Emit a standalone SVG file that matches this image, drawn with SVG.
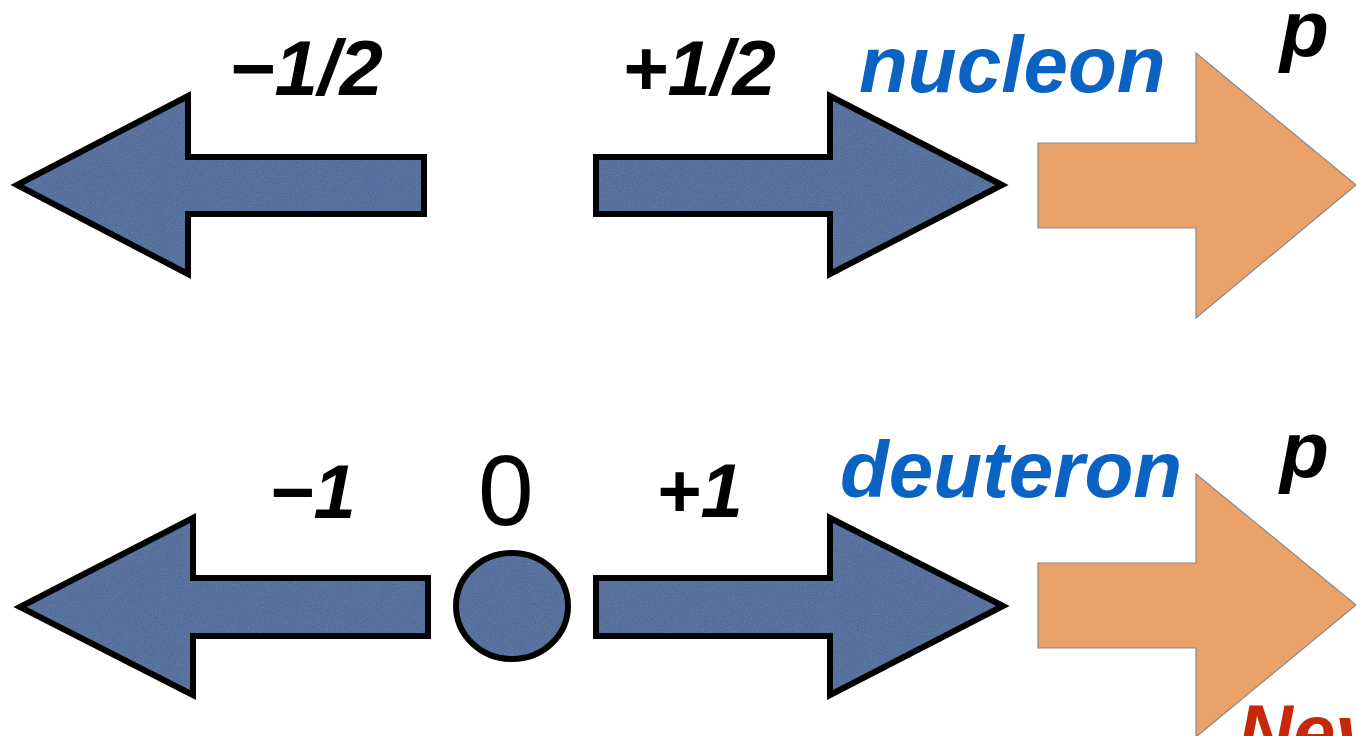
<svg xmlns="http://www.w3.org/2000/svg" width="1356" height="736" viewBox="0 0 1356 736">
<defs>
<filter id="tex" x="-10%" y="-10%" width="120%" height="120%">
<feTurbulence type="fractalNoise" baseFrequency="0.9" numOctaves="2" seed="3" result="n"/>
<feColorMatrix in="n" type="matrix" values="0 0 0 0 0.33  0 0 0 0 0.45  0 0 0 0 0.65  0 0 0 0.35 -0.05" result="c"/>
<feComposite in="c" in2="SourceAlpha" operator="in" result="m"/>
<feMerge><feMergeNode in="SourceGraphic"/><feMergeNode in="m"/></feMerge>
</filter>
<style>
.fillb{fill:#4A6594;stroke:none}
.line{fill:none;stroke:#000;stroke-width:6;stroke-linejoin:miter;stroke-miterlimit:10}
.orange{fill:#EBA26A;stroke:#888;stroke-width:1.2}
.lbl{font-family:"Liberation Sans",Arial,sans-serif;font-weight:bold;font-style:italic;fill:#000}
.name{font-family:"Liberation Sans",Arial,sans-serif;font-weight:bold;font-style:italic;fill:#0A62C2}
.zero{font-family:"Liberation Sans",Arial,sans-serif;fill:#000}
</style>
<polygon id="tl" points="17,185 188,96 188,157 424,157 424,214 188,214 188,274"/>
<polygon id="tr" points="1002,185 830,96 830,157 596,157 596,214 830,214 830,274"/>
<polygon id="bl" points="20,607 193,518 193,578 428,578 428,636 193,636 193,695"/>
<ellipse id="cc" cx="512" cy="606" rx="56" ry="53"/>
<polygon id="br" points="1003,606 830,518 830,578 596,578 596,636 830,636 830,695"/>
</defs>
<rect width="1356" height="736" fill="#fff"/>
<g id="arrows">
<g id="top-left-arrow"><use href="#tl" class="fillb" filter="url(#tex)"/><use href="#tl" class="line"/></g>
<g id="top-right-arrow"><use href="#tr" class="fillb" filter="url(#tex)"/><use href="#tr" class="line"/></g>
<g id="top-orange-arrow"><polygon class="orange" points="1038,143 1196,143 1196,53 1356,185 1196,318 1196,228 1038,228"/></g>
<g id="bottom-left-arrow"><use href="#bl" class="fillb" filter="url(#tex)"/><use href="#bl" class="line"/></g>
<g id="center-circle"><use href="#cc" class="fillb" filter="url(#tex)"/><use href="#cc" class="line"/></g>
<g id="bottom-right-arrow"><use href="#br" class="fillb" filter="url(#tex)"/><use href="#br" class="line"/></g>
<g id="bottom-orange-arrow"><polygon class="orange" points="1038,563 1196,563 1196,474 1356,605 1196,737 1196,648 1038,648"/></g>
</g>
<g id="labels">
<text class="lbl" x="229" y="95" font-size="78">−1/2</text>
<text class="lbl" x="622" y="95" font-size="78">+1/2</text>
<text class="name" x="859" y="92" font-size="80">nucleon</text>
<text class="lbl" x="1280" y="56" font-size="80">p</text>
<text class="lbl" x="269" y="518" font-size="76">−1</text>
<text class="zero" x="478" y="525" font-size="100">0</text>
<text class="lbl" x="656" y="517" font-size="76">+1</text>
<text class="name" x="840" y="497" font-size="80">deuteron</text>
<text class="lbl" x="1280" y="477" font-size="80">p</text>
<text class="lbl" x="1238" y="758" font-size="76" style="fill:#C8280A">Nev</text>
</g>
</svg>
